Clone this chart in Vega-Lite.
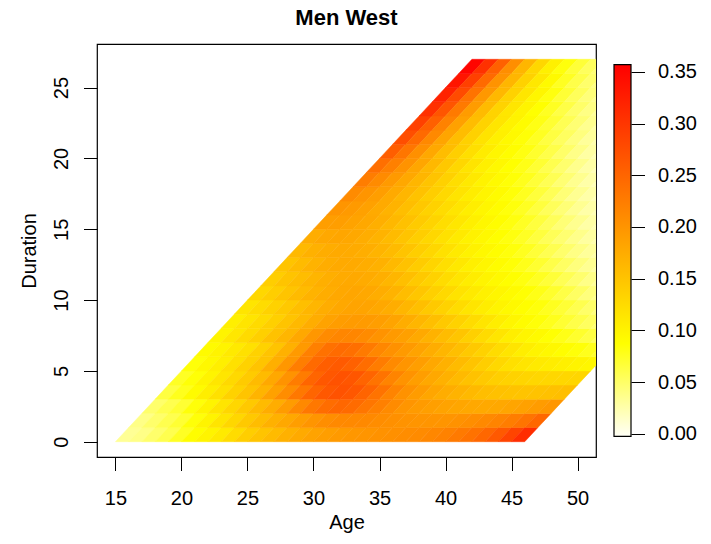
{
"$schema": "https://vega.github.io/schema/vega-lite/v6.json",
"background": "white",
"padding": {"left": 18, "top": 6, "right": 0, "bottom": 0},
"spacing": 16,
"config": {
  "font": "Liberation Sans",
  "view": {"stroke": "black", "strokeWidth": 1.2},
  "axis": {"domain": false, "grid": false, "ticks": true, "tickColor": "black", "tickWidth": 1, "tickSize": 13.5, "labelColor": "black", "labelFontSize": 20, "labelFont": "Liberation Sans", "titleFont": "Liberation Sans", "titleFontSize": 20, "titleFontWeight": "normal", "titleColor": "black", "labelFlush": false, "labelOverlap": false}
},
"hconcat": [
{
  "width": 499, "height": 413,
  "title": {"text": "Men West", "fontSize": 22, "fontWeight": "bold", "color": "black", "offset": -3, "baseline": "alphabetic", "font": "Liberation Sans"},
  "data": {"values": [
{"age":16,"dur":0,"rate":0.035},{"age":17,"dur":0,"rate":0.04},{"age":18,"dur":0,"rate":0.05},{"age":19,"dur":0,"rate":0.06},{"age":20,"dur":0,"rate":0.075},{"age":21,"dur":0,"rate":0.09},{"age":22,"dur":0,"rate":0.1},{"age":23,"dur":0,"rate":0.11},{"age":24,"dur":0,"rate":0.125},{"age":25,"dur":0,"rate":0.14},{"age":26,"dur":0,"rate":0.15},{"age":27,"dur":0,"rate":0.16},{"age":28,"dur":0,"rate":0.17},{"age":29,"dur":0,"rate":0.178},{"age":30,"dur":0,"rate":0.185},{"age":31,"dur":0,"rate":0.19},{"age":32,"dur":0,"rate":0.195},{"age":33,"dur":0,"rate":0.198},{"age":34,"dur":0,"rate":0.2},{"age":35,"dur":0,"rate":0.203},{"age":36,"dur":0,"rate":0.205},{"age":37,"dur":0,"rate":0.208},{"age":38,"dur":0,"rate":0.21},{"age":39,"dur":0,"rate":0.215},{"age":40,"dur":0,"rate":0.22},{"age":41,"dur":0,"rate":0.228},{"age":42,"dur":0,"rate":0.237},{"age":43,"dur":0,"rate":0.248},{"age":44,"dur":0,"rate":0.263},{"age":45,"dur":0,"rate":0.285},{"age":46,"dur":0,"rate":0.31},
{"age":17,"dur":1,"rate":0.04},{"age":18,"dur":1,"rate":0.05},{"age":19,"dur":1,"rate":0.06},{"age":20,"dur":1,"rate":0.07},{"age":21,"dur":1,"rate":0.085},{"age":22,"dur":1,"rate":0.1},{"age":23,"dur":1,"rate":0.115},{"age":24,"dur":1,"rate":0.13},{"age":25,"dur":1,"rate":0.145},{"age":26,"dur":1,"rate":0.158},{"age":27,"dur":1,"rate":0.17},{"age":28,"dur":1,"rate":0.18},{"age":29,"dur":1,"rate":0.19},{"age":30,"dur":1,"rate":0.2},{"age":31,"dur":1,"rate":0.207},{"age":32,"dur":1,"rate":0.212},{"age":33,"dur":1,"rate":0.213},{"age":34,"dur":1,"rate":0.212},{"age":35,"dur":1,"rate":0.208},{"age":36,"dur":1,"rate":0.205},{"age":37,"dur":1,"rate":0.202},{"age":38,"dur":1,"rate":0.2},{"age":39,"dur":1,"rate":0.2},{"age":40,"dur":1,"rate":0.2},{"age":41,"dur":1,"rate":0.203},{"age":42,"dur":1,"rate":0.207},{"age":43,"dur":1,"rate":0.212},{"age":44,"dur":1,"rate":0.218},{"age":45,"dur":1,"rate":0.225},{"age":46,"dur":1,"rate":0.235},{"age":47,"dur":1,"rate":0.248},
{"age":18,"dur":2,"rate":0.05},{"age":19,"dur":2,"rate":0.06},{"age":20,"dur":2,"rate":0.07},{"age":21,"dur":2,"rate":0.085},{"age":22,"dur":2,"rate":0.1},{"age":23,"dur":2,"rate":0.115},{"age":24,"dur":2,"rate":0.13},{"age":25,"dur":2,"rate":0.145},{"age":26,"dur":2,"rate":0.16},{"age":27,"dur":2,"rate":0.175},{"age":28,"dur":2,"rate":0.192},{"age":29,"dur":2,"rate":0.212},{"age":30,"dur":2,"rate":0.23},{"age":31,"dur":2,"rate":0.242},{"age":32,"dur":2,"rate":0.248},{"age":33,"dur":2,"rate":0.244},{"age":34,"dur":2,"rate":0.233},{"age":35,"dur":2,"rate":0.222},{"age":36,"dur":2,"rate":0.21},{"age":37,"dur":2,"rate":0.2},{"age":38,"dur":2,"rate":0.194},{"age":39,"dur":2,"rate":0.189},{"age":40,"dur":2,"rate":0.185},{"age":41,"dur":2,"rate":0.182},{"age":42,"dur":2,"rate":0.18},{"age":43,"dur":2,"rate":0.179},{"age":44,"dur":2,"rate":0.18},{"age":45,"dur":2,"rate":0.183},{"age":46,"dur":2,"rate":0.187},{"age":47,"dur":2,"rate":0.192},{"age":48,"dur":2,"rate":0.198},
{"age":19,"dur":3,"rate":0.065},{"age":20,"dur":3,"rate":0.078},{"age":21,"dur":3,"rate":0.092},{"age":22,"dur":3,"rate":0.106},{"age":23,"dur":3,"rate":0.12},{"age":24,"dur":3,"rate":0.135},{"age":25,"dur":3,"rate":0.15},{"age":26,"dur":3,"rate":0.167},{"age":27,"dur":3,"rate":0.187},{"age":28,"dur":3,"rate":0.208},{"age":29,"dur":3,"rate":0.23},{"age":30,"dur":3,"rate":0.25},{"age":31,"dur":3,"rate":0.264},{"age":32,"dur":3,"rate":0.27},{"age":33,"dur":3,"rate":0.265},{"age":34,"dur":3,"rate":0.252},{"age":35,"dur":3,"rate":0.236},{"age":36,"dur":3,"rate":0.218},{"age":37,"dur":3,"rate":0.203},{"age":38,"dur":3,"rate":0.192},{"age":39,"dur":3,"rate":0.182},{"age":40,"dur":3,"rate":0.175},{"age":41,"dur":3,"rate":0.168},{"age":42,"dur":3,"rate":0.162},{"age":43,"dur":3,"rate":0.157},{"age":44,"dur":3,"rate":0.153},{"age":45,"dur":3,"rate":0.151},{"age":46,"dur":3,"rate":0.15},{"age":47,"dur":3,"rate":0.151},{"age":48,"dur":3,"rate":0.153},{"age":49,"dur":3,"rate":0.156},
{"age":20,"dur":4,"rate":0.075},{"age":21,"dur":4,"rate":0.086},{"age":22,"dur":4,"rate":0.1},{"age":23,"dur":4,"rate":0.114},{"age":24,"dur":4,"rate":0.128},{"age":25,"dur":4,"rate":0.143},{"age":26,"dur":4,"rate":0.16},{"age":27,"dur":4,"rate":0.18},{"age":28,"dur":4,"rate":0.202},{"age":29,"dur":4,"rate":0.226},{"age":30,"dur":4,"rate":0.25},{"age":31,"dur":4,"rate":0.265},{"age":32,"dur":4,"rate":0.271},{"age":33,"dur":4,"rate":0.266},{"age":34,"dur":4,"rate":0.252},{"age":35,"dur":4,"rate":0.236},{"age":36,"dur":4,"rate":0.218},{"age":37,"dur":4,"rate":0.202},{"age":38,"dur":4,"rate":0.19},{"age":39,"dur":4,"rate":0.18},{"age":40,"dur":4,"rate":0.17},{"age":41,"dur":4,"rate":0.161},{"age":42,"dur":4,"rate":0.152},{"age":43,"dur":4,"rate":0.145},{"age":44,"dur":4,"rate":0.139},{"age":45,"dur":4,"rate":0.135},{"age":46,"dur":4,"rate":0.132},{"age":47,"dur":4,"rate":0.13},{"age":48,"dur":4,"rate":0.13},{"age":49,"dur":4,"rate":0.13},{"age":50,"dur":4,"rate":0.131},
{"age":21,"dur":5,"rate":0.085},{"age":22,"dur":5,"rate":0.095},{"age":23,"dur":5,"rate":0.105},{"age":24,"dur":5,"rate":0.12},{"age":25,"dur":5,"rate":0.135},{"age":26,"dur":5,"rate":0.15},{"age":27,"dur":5,"rate":0.172},{"age":28,"dur":5,"rate":0.198},{"age":29,"dur":5,"rate":0.224},{"age":30,"dur":5,"rate":0.245},{"age":31,"dur":5,"rate":0.258},{"age":32,"dur":5,"rate":0.262},{"age":33,"dur":5,"rate":0.255},{"age":34,"dur":5,"rate":0.242},{"age":35,"dur":5,"rate":0.226},{"age":36,"dur":5,"rate":0.211},{"age":37,"dur":5,"rate":0.2},{"age":38,"dur":5,"rate":0.19},{"age":39,"dur":5,"rate":0.18},{"age":40,"dur":5,"rate":0.17},{"age":41,"dur":5,"rate":0.16},{"age":42,"dur":5,"rate":0.15},{"age":43,"dur":5,"rate":0.14},{"age":44,"dur":5,"rate":0.129},{"age":45,"dur":5,"rate":0.121},{"age":46,"dur":5,"rate":0.115},{"age":47,"dur":5,"rate":0.11},{"age":48,"dur":5,"rate":0.107},{"age":49,"dur":5,"rate":0.104},{"age":50,"dur":5,"rate":0.1},{"age":51,"dur":5,"rate":0.096},
{"age":22,"dur":6,"rate":0.092},{"age":23,"dur":6,"rate":0.1},{"age":24,"dur":6,"rate":0.11},{"age":25,"dur":6,"rate":0.12},{"age":26,"dur":6,"rate":0.135},{"age":27,"dur":6,"rate":0.15},{"age":28,"dur":6,"rate":0.17},{"age":29,"dur":6,"rate":0.195},{"age":30,"dur":6,"rate":0.222},{"age":31,"dur":6,"rate":0.238},{"age":32,"dur":6,"rate":0.244},{"age":33,"dur":6,"rate":0.24},{"age":34,"dur":6,"rate":0.228},{"age":35,"dur":6,"rate":0.215},{"age":36,"dur":6,"rate":0.204},{"age":37,"dur":6,"rate":0.195},{"age":38,"dur":6,"rate":0.185},{"age":39,"dur":6,"rate":0.175},{"age":40,"dur":6,"rate":0.165},{"age":41,"dur":6,"rate":0.155},{"age":42,"dur":6,"rate":0.145},{"age":43,"dur":6,"rate":0.135},{"age":44,"dur":6,"rate":0.125},{"age":45,"dur":6,"rate":0.115},{"age":46,"dur":6,"rate":0.106},{"age":47,"dur":6,"rate":0.1},{"age":48,"dur":6,"rate":0.095},{"age":49,"dur":6,"rate":0.09},{"age":50,"dur":6,"rate":0.085},{"age":51,"dur":6,"rate":0.078},{"age":52,"dur":6,"rate":0.072},
{"age":23,"dur":7,"rate":0.1},{"age":24,"dur":7,"rate":0.113},{"age":25,"dur":7,"rate":0.126},{"age":26,"dur":7,"rate":0.138},{"age":27,"dur":7,"rate":0.152},{"age":28,"dur":7,"rate":0.165},{"age":29,"dur":7,"rate":0.18},{"age":30,"dur":7,"rate":0.198},{"age":31,"dur":7,"rate":0.21},{"age":32,"dur":7,"rate":0.216},{"age":33,"dur":7,"rate":0.216},{"age":34,"dur":7,"rate":0.21},{"age":35,"dur":7,"rate":0.202},{"age":36,"dur":7,"rate":0.195},{"age":37,"dur":7,"rate":0.188},{"age":38,"dur":7,"rate":0.179},{"age":39,"dur":7,"rate":0.169},{"age":40,"dur":7,"rate":0.159},{"age":41,"dur":7,"rate":0.149},{"age":42,"dur":7,"rate":0.138},{"age":43,"dur":7,"rate":0.126},{"age":44,"dur":7,"rate":0.115},{"age":45,"dur":7,"rate":0.106},{"age":46,"dur":7,"rate":0.099},{"age":47,"dur":7,"rate":0.093},{"age":48,"dur":7,"rate":0.087},{"age":49,"dur":7,"rate":0.08},{"age":50,"dur":7,"rate":0.072},{"age":51,"dur":7,"rate":0.064},{"age":52,"dur":7,"rate":0.056},
{"age":24,"dur":8,"rate":0.105},{"age":25,"dur":8,"rate":0.115},{"age":26,"dur":8,"rate":0.126},{"age":27,"dur":8,"rate":0.138},{"age":28,"dur":8,"rate":0.15},{"age":29,"dur":8,"rate":0.162},{"age":30,"dur":8,"rate":0.175},{"age":31,"dur":8,"rate":0.185},{"age":32,"dur":8,"rate":0.191},{"age":33,"dur":8,"rate":0.194},{"age":34,"dur":8,"rate":0.194},{"age":35,"dur":8,"rate":0.19},{"age":36,"dur":8,"rate":0.184},{"age":37,"dur":8,"rate":0.175},{"age":38,"dur":8,"rate":0.165},{"age":39,"dur":8,"rate":0.155},{"age":40,"dur":8,"rate":0.145},{"age":41,"dur":8,"rate":0.135},{"age":42,"dur":8,"rate":0.125},{"age":43,"dur":8,"rate":0.115},{"age":44,"dur":8,"rate":0.106},{"age":45,"dur":8,"rate":0.098},{"age":46,"dur":8,"rate":0.091},{"age":47,"dur":8,"rate":0.085},{"age":48,"dur":8,"rate":0.078},{"age":49,"dur":8,"rate":0.07},{"age":50,"dur":8,"rate":0.062},{"age":51,"dur":8,"rate":0.054},{"age":52,"dur":8,"rate":0.047},
{"age":25,"dur":9,"rate":0.115},{"age":26,"dur":9,"rate":0.125},{"age":27,"dur":9,"rate":0.135},{"age":28,"dur":9,"rate":0.145},{"age":29,"dur":9,"rate":0.155},{"age":30,"dur":9,"rate":0.165},{"age":31,"dur":9,"rate":0.174},{"age":32,"dur":9,"rate":0.18},{"age":33,"dur":9,"rate":0.184},{"age":34,"dur":9,"rate":0.184},{"age":35,"dur":9,"rate":0.18},{"age":36,"dur":9,"rate":0.174},{"age":37,"dur":9,"rate":0.165},{"age":38,"dur":9,"rate":0.155},{"age":39,"dur":9,"rate":0.145},{"age":40,"dur":9,"rate":0.135},{"age":41,"dur":9,"rate":0.125},{"age":42,"dur":9,"rate":0.115},{"age":43,"dur":9,"rate":0.107},{"age":44,"dur":9,"rate":0.1},{"age":45,"dur":9,"rate":0.094},{"age":46,"dur":9,"rate":0.089},{"age":47,"dur":9,"rate":0.084},{"age":48,"dur":9,"rate":0.077},{"age":49,"dur":9,"rate":0.069},{"age":50,"dur":9,"rate":0.06},{"age":51,"dur":9,"rate":0.051},{"age":52,"dur":9,"rate":0.043},
{"age":26,"dur":10,"rate":0.13},{"age":27,"dur":10,"rate":0.14},{"age":28,"dur":10,"rate":0.15},{"age":29,"dur":10,"rate":0.16},{"age":30,"dur":10,"rate":0.168},{"age":31,"dur":10,"rate":0.175},{"age":32,"dur":10,"rate":0.18},{"age":33,"dur":10,"rate":0.182},{"age":34,"dur":10,"rate":0.18},{"age":35,"dur":10,"rate":0.175},{"age":36,"dur":10,"rate":0.168},{"age":37,"dur":10,"rate":0.158},{"age":38,"dur":10,"rate":0.148},{"age":39,"dur":10,"rate":0.138},{"age":40,"dur":10,"rate":0.128},{"age":41,"dur":10,"rate":0.118},{"age":42,"dur":10,"rate":0.11},{"age":43,"dur":10,"rate":0.103},{"age":44,"dur":10,"rate":0.097},{"age":45,"dur":10,"rate":0.092},{"age":46,"dur":10,"rate":0.087},{"age":47,"dur":10,"rate":0.08},{"age":48,"dur":10,"rate":0.072},{"age":49,"dur":10,"rate":0.063},{"age":50,"dur":10,"rate":0.053},{"age":51,"dur":10,"rate":0.044},{"age":52,"dur":10,"rate":0.038},
{"age":27,"dur":11,"rate":0.14},{"age":28,"dur":11,"rate":0.15},{"age":29,"dur":11,"rate":0.158},{"age":30,"dur":11,"rate":0.166},{"age":31,"dur":11,"rate":0.172},{"age":32,"dur":11,"rate":0.177},{"age":33,"dur":11,"rate":0.179},{"age":34,"dur":11,"rate":0.177},{"age":35,"dur":11,"rate":0.172},{"age":36,"dur":11,"rate":0.165},{"age":37,"dur":11,"rate":0.155},{"age":38,"dur":11,"rate":0.145},{"age":39,"dur":11,"rate":0.135},{"age":40,"dur":11,"rate":0.125},{"age":41,"dur":11,"rate":0.115},{"age":42,"dur":11,"rate":0.107},{"age":43,"dur":11,"rate":0.1},{"age":44,"dur":11,"rate":0.094},{"age":45,"dur":11,"rate":0.089},{"age":46,"dur":11,"rate":0.083},{"age":47,"dur":11,"rate":0.076},{"age":48,"dur":11,"rate":0.068},{"age":49,"dur":11,"rate":0.058},{"age":50,"dur":11,"rate":0.049},{"age":51,"dur":11,"rate":0.04},{"age":52,"dur":11,"rate":0.034},
{"age":28,"dur":12,"rate":0.15},{"age":29,"dur":12,"rate":0.16},{"age":30,"dur":12,"rate":0.168},{"age":31,"dur":12,"rate":0.174},{"age":32,"dur":12,"rate":0.178},{"age":33,"dur":12,"rate":0.178},{"age":34,"dur":12,"rate":0.175},{"age":35,"dur":12,"rate":0.17},{"age":36,"dur":12,"rate":0.162},{"age":37,"dur":12,"rate":0.152},{"age":38,"dur":12,"rate":0.142},{"age":39,"dur":12,"rate":0.132},{"age":40,"dur":12,"rate":0.122},{"age":41,"dur":12,"rate":0.112},{"age":42,"dur":12,"rate":0.104},{"age":43,"dur":12,"rate":0.097},{"age":44,"dur":12,"rate":0.091},{"age":45,"dur":12,"rate":0.086},{"age":46,"dur":12,"rate":0.079},{"age":47,"dur":12,"rate":0.071},{"age":48,"dur":12,"rate":0.062},{"age":49,"dur":12,"rate":0.053},{"age":50,"dur":12,"rate":0.044},{"age":51,"dur":12,"rate":0.036},{"age":52,"dur":12,"rate":0.03},
{"age":29,"dur":13,"rate":0.162},{"age":30,"dur":13,"rate":0.17},{"age":31,"dur":13,"rate":0.175},{"age":32,"dur":13,"rate":0.178},{"age":33,"dur":13,"rate":0.177},{"age":34,"dur":13,"rate":0.173},{"age":35,"dur":13,"rate":0.167},{"age":36,"dur":13,"rate":0.16},{"age":37,"dur":13,"rate":0.15},{"age":38,"dur":13,"rate":0.14},{"age":39,"dur":13,"rate":0.13},{"age":40,"dur":13,"rate":0.12},{"age":41,"dur":13,"rate":0.11},{"age":42,"dur":13,"rate":0.102},{"age":43,"dur":13,"rate":0.095},{"age":44,"dur":13,"rate":0.09},{"age":45,"dur":13,"rate":0.084},{"age":46,"dur":13,"rate":0.077},{"age":47,"dur":13,"rate":0.068},{"age":48,"dur":13,"rate":0.059},{"age":49,"dur":13,"rate":0.05},{"age":50,"dur":13,"rate":0.041},{"age":51,"dur":13,"rate":0.033},{"age":52,"dur":13,"rate":0.028},
{"age":30,"dur":14,"rate":0.175},{"age":31,"dur":14,"rate":0.18},{"age":32,"dur":14,"rate":0.182},{"age":33,"dur":14,"rate":0.18},{"age":34,"dur":14,"rate":0.175},{"age":35,"dur":14,"rate":0.168},{"age":36,"dur":14,"rate":0.16},{"age":37,"dur":14,"rate":0.15},{"age":38,"dur":14,"rate":0.14},{"age":39,"dur":14,"rate":0.13},{"age":40,"dur":14,"rate":0.12},{"age":41,"dur":14,"rate":0.11},{"age":42,"dur":14,"rate":0.102},{"age":43,"dur":14,"rate":0.095},{"age":44,"dur":14,"rate":0.089},{"age":45,"dur":14,"rate":0.083},{"age":46,"dur":14,"rate":0.075},{"age":47,"dur":14,"rate":0.066},{"age":48,"dur":14,"rate":0.057},{"age":49,"dur":14,"rate":0.048},{"age":50,"dur":14,"rate":0.039},{"age":51,"dur":14,"rate":0.031},{"age":52,"dur":14,"rate":0.026},
{"age":31,"dur":15,"rate":0.19},{"age":32,"dur":15,"rate":0.19},{"age":33,"dur":15,"rate":0.185},{"age":34,"dur":15,"rate":0.18},{"age":35,"dur":15,"rate":0.172},{"age":36,"dur":15,"rate":0.163},{"age":37,"dur":15,"rate":0.153},{"age":38,"dur":15,"rate":0.143},{"age":39,"dur":15,"rate":0.133},{"age":40,"dur":15,"rate":0.123},{"age":41,"dur":15,"rate":0.113},{"age":42,"dur":15,"rate":0.104},{"age":43,"dur":15,"rate":0.096},{"age":44,"dur":15,"rate":0.09},{"age":45,"dur":15,"rate":0.083},{"age":46,"dur":15,"rate":0.075},{"age":47,"dur":15,"rate":0.066},{"age":48,"dur":15,"rate":0.056},{"age":49,"dur":15,"rate":0.046},{"age":50,"dur":15,"rate":0.037},{"age":51,"dur":15,"rate":0.029},{"age":52,"dur":15,"rate":0.024},
{"age":32,"dur":16,"rate":0.2},{"age":33,"dur":16,"rate":0.195},{"age":34,"dur":16,"rate":0.187},{"age":35,"dur":16,"rate":0.178},{"age":36,"dur":16,"rate":0.168},{"age":37,"dur":16,"rate":0.157},{"age":38,"dur":16,"rate":0.146},{"age":39,"dur":16,"rate":0.135},{"age":40,"dur":16,"rate":0.125},{"age":41,"dur":16,"rate":0.115},{"age":42,"dur":16,"rate":0.106},{"age":43,"dur":16,"rate":0.098},{"age":44,"dur":16,"rate":0.091},{"age":45,"dur":16,"rate":0.084},{"age":46,"dur":16,"rate":0.076},{"age":47,"dur":16,"rate":0.066},{"age":48,"dur":16,"rate":0.056},{"age":49,"dur":16,"rate":0.046},{"age":50,"dur":16,"rate":0.036},{"age":51,"dur":16,"rate":0.028},{"age":52,"dur":16,"rate":0.023},
{"age":33,"dur":17,"rate":0.21},{"age":34,"dur":17,"rate":0.2},{"age":35,"dur":17,"rate":0.19},{"age":36,"dur":17,"rate":0.178},{"age":37,"dur":17,"rate":0.165},{"age":38,"dur":17,"rate":0.152},{"age":39,"dur":17,"rate":0.14},{"age":40,"dur":17,"rate":0.128},{"age":41,"dur":17,"rate":0.117},{"age":42,"dur":17,"rate":0.107},{"age":43,"dur":17,"rate":0.099},{"age":44,"dur":17,"rate":0.092},{"age":45,"dur":17,"rate":0.085},{"age":46,"dur":17,"rate":0.077},{"age":47,"dur":17,"rate":0.067},{"age":48,"dur":17,"rate":0.057},{"age":49,"dur":17,"rate":0.046},{"age":50,"dur":17,"rate":0.036},{"age":51,"dur":17,"rate":0.028},{"age":52,"dur":17,"rate":0.022},
{"age":34,"dur":18,"rate":0.225},{"age":35,"dur":18,"rate":0.21},{"age":36,"dur":18,"rate":0.195},{"age":37,"dur":18,"rate":0.18},{"age":38,"dur":18,"rate":0.165},{"age":39,"dur":18,"rate":0.15},{"age":40,"dur":18,"rate":0.136},{"age":41,"dur":18,"rate":0.123},{"age":42,"dur":18,"rate":0.111},{"age":43,"dur":18,"rate":0.101},{"age":44,"dur":18,"rate":0.093},{"age":45,"dur":18,"rate":0.086},{"age":46,"dur":18,"rate":0.078},{"age":47,"dur":18,"rate":0.068},{"age":48,"dur":18,"rate":0.058},{"age":49,"dur":18,"rate":0.047},{"age":50,"dur":18,"rate":0.037},{"age":51,"dur":18,"rate":0.028},{"age":52,"dur":18,"rate":0.022},
{"age":35,"dur":19,"rate":0.24},{"age":36,"dur":19,"rate":0.222},{"age":37,"dur":19,"rate":0.202},{"age":38,"dur":19,"rate":0.182},{"age":39,"dur":19,"rate":0.163},{"age":40,"dur":19,"rate":0.146},{"age":41,"dur":19,"rate":0.13},{"age":42,"dur":19,"rate":0.116},{"age":43,"dur":19,"rate":0.104},{"age":44,"dur":19,"rate":0.095},{"age":45,"dur":19,"rate":0.088},{"age":46,"dur":19,"rate":0.08},{"age":47,"dur":19,"rate":0.07},{"age":48,"dur":19,"rate":0.06},{"age":49,"dur":19,"rate":0.049},{"age":50,"dur":19,"rate":0.038},{"age":51,"dur":19,"rate":0.029},{"age":52,"dur":19,"rate":0.022},
{"age":36,"dur":20,"rate":0.258},{"age":37,"dur":20,"rate":0.232},{"age":38,"dur":20,"rate":0.205},{"age":39,"dur":20,"rate":0.18},{"age":40,"dur":20,"rate":0.158},{"age":41,"dur":20,"rate":0.139},{"age":42,"dur":20,"rate":0.122},{"age":43,"dur":20,"rate":0.108},{"age":44,"dur":20,"rate":0.097},{"age":45,"dur":20,"rate":0.09},{"age":46,"dur":20,"rate":0.082},{"age":47,"dur":20,"rate":0.072},{"age":48,"dur":20,"rate":0.062},{"age":49,"dur":20,"rate":0.051},{"age":50,"dur":20,"rate":0.04},{"age":51,"dur":20,"rate":0.03},{"age":52,"dur":20,"rate":0.024},
{"age":37,"dur":21,"rate":0.275},{"age":38,"dur":21,"rate":0.245},{"age":39,"dur":21,"rate":0.212},{"age":40,"dur":21,"rate":0.183},{"age":41,"dur":21,"rate":0.158},{"age":42,"dur":21,"rate":0.136},{"age":43,"dur":21,"rate":0.118},{"age":44,"dur":21,"rate":0.104},{"age":45,"dur":21,"rate":0.094},{"age":46,"dur":21,"rate":0.086},{"age":47,"dur":21,"rate":0.076},{"age":48,"dur":21,"rate":0.065},{"age":49,"dur":21,"rate":0.054},{"age":50,"dur":21,"rate":0.043},{"age":51,"dur":21,"rate":0.033},{"age":52,"dur":21,"rate":0.026},
{"age":38,"dur":22,"rate":0.29},{"age":39,"dur":22,"rate":0.256},{"age":40,"dur":22,"rate":0.22},{"age":41,"dur":22,"rate":0.187},{"age":42,"dur":22,"rate":0.158},{"age":43,"dur":22,"rate":0.134},{"age":44,"dur":22,"rate":0.115},{"age":45,"dur":22,"rate":0.101},{"age":46,"dur":22,"rate":0.091},{"age":47,"dur":22,"rate":0.081},{"age":48,"dur":22,"rate":0.07},{"age":49,"dur":22,"rate":0.058},{"age":50,"dur":22,"rate":0.047},{"age":51,"dur":22,"rate":0.037},{"age":52,"dur":22,"rate":0.029},
{"age":39,"dur":23,"rate":0.305},{"age":40,"dur":23,"rate":0.267},{"age":41,"dur":23,"rate":0.228},{"age":42,"dur":23,"rate":0.192},{"age":43,"dur":23,"rate":0.16},{"age":44,"dur":23,"rate":0.134},{"age":45,"dur":23,"rate":0.114},{"age":46,"dur":23,"rate":0.1},{"age":47,"dur":23,"rate":0.088},{"age":48,"dur":23,"rate":0.076},{"age":49,"dur":23,"rate":0.063},{"age":50,"dur":23,"rate":0.051},{"age":51,"dur":23,"rate":0.041},{"age":52,"dur":23,"rate":0.033},
{"age":40,"dur":24,"rate":0.32},{"age":41,"dur":24,"rate":0.278},{"age":42,"dur":24,"rate":0.236},{"age":43,"dur":24,"rate":0.197},{"age":44,"dur":24,"rate":0.163},{"age":45,"dur":24,"rate":0.135},{"age":46,"dur":24,"rate":0.114},{"age":47,"dur":24,"rate":0.098},{"age":48,"dur":24,"rate":0.083},{"age":49,"dur":24,"rate":0.069},{"age":50,"dur":24,"rate":0.056},{"age":51,"dur":24,"rate":0.045},{"age":52,"dur":24,"rate":0.037},
{"age":41,"dur":25,"rate":0.335},{"age":42,"dur":25,"rate":0.29},{"age":43,"dur":25,"rate":0.245},{"age":44,"dur":25,"rate":0.202},{"age":45,"dur":25,"rate":0.165},{"age":46,"dur":25,"rate":0.135},{"age":47,"dur":25,"rate":0.112},{"age":48,"dur":25,"rate":0.093},{"age":49,"dur":25,"rate":0.076},{"age":50,"dur":25,"rate":0.062},{"age":51,"dur":25,"rate":0.05},{"age":52,"dur":25,"rate":0.041},
{"age":42,"dur":26,"rate":0.352},{"age":43,"dur":26,"rate":0.305},{"age":44,"dur":26,"rate":0.255},{"age":45,"dur":26,"rate":0.207},{"age":46,"dur":26,"rate":0.165},{"age":47,"dur":26,"rate":0.13},{"age":48,"dur":26,"rate":0.104},{"age":49,"dur":26,"rate":0.084},{"age":50,"dur":26,"rate":0.068},{"age":51,"dur":26,"rate":0.055},{"age":52,"dur":26,"rate":0.046}
  ]},
  "mark": {"type": "point", "shape": "M -13.2 0 L 0 0 L 13.2 -14.163 L 0 -14.163 Z", "size": 4, "filled": true, "opacity": 1, "clip": true, "strokeWidth": 0.5},
  "encoding": {
    "x": {"field": "age", "type": "quantitative", "scale": {"domain": [13.6, 51.4], "nice": false, "zero": false},
          "axis": {"title": "Age", "values": [15, 20, 25, 30, 35, 40, 45, 50], "labelBaseline": "alphabetic", "labelPadding": 34, "titleBaseline": "alphabetic", "titlePadding": 20}},
    "y": {"field": "dur", "type": "quantitative", "scale": {"domain": [-1.08, 28.08], "nice": false, "zero": false},
          "axis": {"title": "Duration", "values": [0, 5, 10, 15, 20, 25], "labelAngle": -90, "labelAlign": "center", "labelBaseline": "alphabetic", "labelPadding": 16, "titleBaseline": "alphabetic", "titlePadding": 16}},
    "color": {"field": "rate", "type": "quantitative", "scale": {"domain": [0, 0.088, 0.357], "range": ["#FFFFF7", "#FFFF00", "#FF0000"], "interpolate": "rgb"}, "legend": null},
    "stroke": {"field": "rate", "type": "quantitative", "scale": {"domain": [0, 0.088, 0.357], "range": ["#FFFFF7", "#FFFF00", "#FF0000"], "interpolate": "rgb"}, "legend": null}
  }
},
{
  "width": 17, "height": 413,
  "view": {"stroke": null},
  "data": {"values": [{"lo": -0.0026, "hi": 0.357}]},
  "mark": {"type": "rect", "stroke": "black", "strokeWidth": 1.2,
           "fill": {"gradient": "linear", "x1": 0, "y1": 1, "x2": 0, "y2": 0,
                    "stops": [{"offset": 0, "color": "#FFFFF7"}, {"offset": 0.25, "color": "#FFFF00"}, {"offset": 1, "color": "#FF0000"}]}},
  "encoding": {
    "y": {"field": "lo", "type": "quantitative", "scale": {"domain": [-0.0225, 0.377], "nice": false, "zero": false},
          "axis": {"orient": "right", "title": null, "values": [0, 0.05, 0.1, 0.15, 0.2, 0.25, 0.3, 0.35], "format": ".2f", "labelPadding": 13, "labelBaseline": "middle"}},
    "y2": {"field": "hi"}
  }
}
]
}
